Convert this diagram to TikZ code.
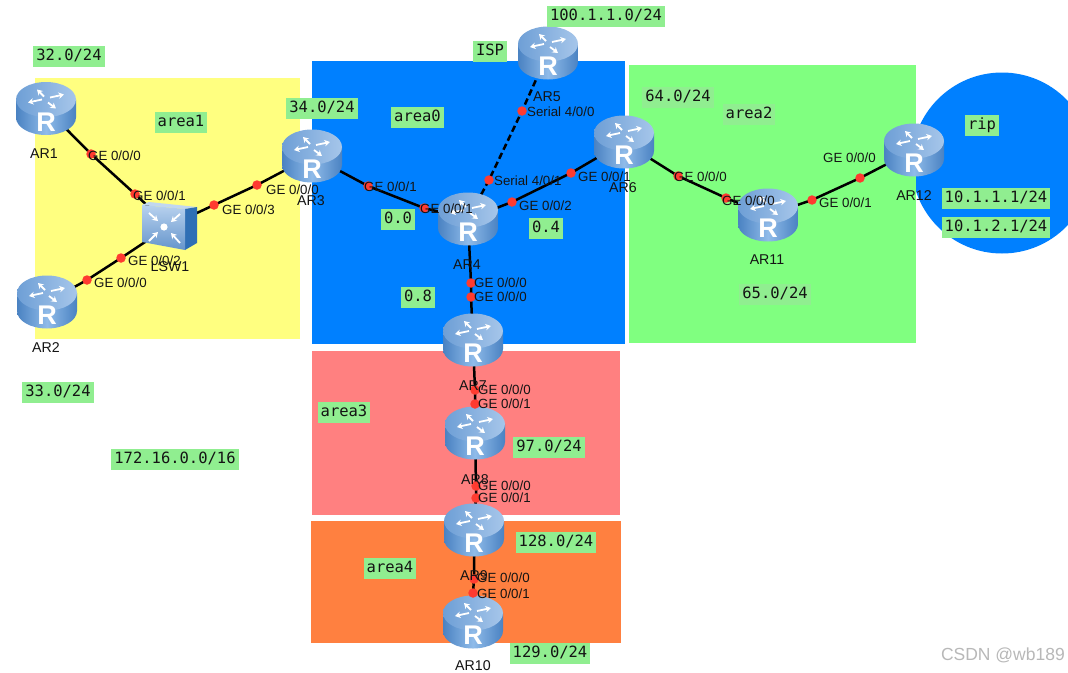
\documentclass[tikz,border=0pt]{standalone}
\usepackage{fontspec}
\setmainfont{Liberation Sans}
\newfontfamily\monof{DejaVu Sans Mono}
\usetikzlibrary{arrows.meta}
\pgfdeclarelayer{back}
\pgfdeclarelayer{lines}
\pgfsetlayers{back,lines,main}
\definecolor{ayellow}{HTML}{FFFF80}
\definecolor{ablue}{HTML}{0080FF}
\definecolor{agreen}{HTML}{80FF80}
\definecolor{ared}{HTML}{FF8080}
\definecolor{aorange}{HTML}{FF8040}
\definecolor{tagbg}{HTML}{90EE90}
\definecolor{txt}{HTML}{141414}
\definecolor{rdark}{HTML}{4A82C2}
\definecolor{rmid}{HTML}{8FBBE9}
\definecolor{rtop1}{HTML}{6E9FD6}
\definecolor{rtop2}{HTML}{A6C6EA}
\definecolor{portred}{HTML}{FF3B30}
\definecolor{swside}{HTML}{2F6FB5}
\tikzset{
 x=1pt,y=-1pt,
 tag/.style={fill=tagbg,inner xsep=3pt,inner ysep=0pt,text height=14.5pt,text depth=6.5pt,text=txt,font=\monof\fontsize{15.5}{17}\selectfont},
 portdot/.style={circle,fill=portred,minimum size=9.5pt,inner sep=0pt},
 portlabel/.style={anchor=west,inner sep=0pt,text=txt,font=\fontsize{13.3}{15}\selectfont},
 devname/.style={inner sep=0pt,text=txt,font=\fontsize{14.2}{16}\selectfont},
 devbox/.style={minimum width=60pt,minimum height=53pt,inner sep=0pt},
 link/.style={draw=black,line width=2.5pt},
 seriallink/.style={draw=black,line width=2.5pt,dash pattern=on 6.5pt off 3.5pt},
 wing/.style={draw=white,line width=1.8pt,-{Stealth[length=5.5pt,width=6.5pt]}},
}
\newcommand{\router}[3]{%
 \node[devbox] (#1) at (#2,#3) {};
 \begin{scope}[shift={(#2,#3)}]
  \path[left color=rdark,right color=rdark,middle color=rmid]
   (-30,-9) -- (-30,9) arc[start angle=180,end angle=0,x radius=30,y radius=17.5] -- (30,-9) -- cycle;
  \path[left color=rtop1,right color=rtop2] (0,-9) ellipse[x radius=30,y radius=17.5];
  \draw[wing] (-4,-9) -- (-18,-6);
  \draw[wing] (4,-11) -- (18,-14);
  \draw[wing] (2,-6) -- (10,0);
  \draw[wing] (-2,-12) -- (-9,-19);
  \node[inner sep=0pt,text=white,font=\bfseries\fontsize{27}{27}\selectfont] (#1-R) at (0,13.5) {R};
 \end{scope}
}
\newcommand{\port}[6]{%
 \node[portdot] (#1) at (#2,#3) {};
 \node[portlabel] (#1-t) at (#4,#5) {#6};
}
\begin{document}
\begin{tikzpicture}
\useasboundingbox (0,0) rectangle (1068,672);
\begin{pgfonlayer}{back}
 \fill[white] (0,0) rectangle (1068,672);
 \begin{scope}
  \clip (0,0) rectangle (1068,672);
  \fill[ablue] (1002,163) circle[radius=90.5];
 \end{scope}
 \fill[ayellow] (35,78) rectangle (300,339);
 \fill[ablue] (312,61) rectangle (625,344);
 \fill[agreen] (629,65) rectangle (916,343);
 \fill[ared] (312,351) rectangle (620,515);
 \fill[aorange] (311,521) rectangle (621,643);
\end{pgfonlayer}

\router{ar1}{46}{108.5}
\router{ar2}{47}{302}
\router{ar3}{312}{156}
\router{ar4}{468}{219}
\router{ar5}{548}{53}
\router{ar6}{624}{142}
\router{ar7}{473}{340}
\router{ar8}{475}{433}
\router{ar9}{474}{530}
\router{ar10}{473}{622}
\router{ar11}{768}{215}
\router{ar12}{914}{150}

% switch
\node[minimum width=55pt,minimum height=50pt,inner sep=0pt] (lsw) at (169,226) {};
\fill[rtop2!70!white] (142,205) -- (149,202) -- (197,207) -- (185,209) -- cycle;
\fill[swside] (185,209) -- (197,207) -- (197,243) -- (185,250) -- cycle;
\path[top color=rtop2!80!white,bottom color=rdark!85!white] (142,205) -- (185,209) -- (185,250) -- (142,242) -- cycle;
\fill[white] (164,227) circle[radius=3.6];
\draw[wing] (149,213) -- (158,221);
\draw[wing] (180,214) -- (171,222);
\draw[wing] (149,241) -- (158,232);
\draw[wing] (180,243) -- (171,233);

% ports
\port{p1a}{91}{154}{88}{156}{GE 0/0/0}
\port{p1b}{135}{194}{133}{196}{GE 0/0/1}
\port{p2a}{87}{280}{94}{283}{GE 0/0/0}
\port{p2b}{121}{258}{128}{261}{GE 0/0/2}
\port{p3a}{214}{205}{222}{210}{GE 0/0/3}
\port{p3b}{257}{185}{266}{190}{GE 0/0/0}
\port{p4a}{368}{186}{364}{187}{GE 0/0/1}
\port{p4b}{424}{208}{420}{209}{GE 0/0/1}
\port{p5a}{522}{111}{527}{112}{Serial 4/0/0}
\port{p5b}{489}{180}{494}{181}{Serial 4/0/1}
\port{p6a}{512}{202}{519}{206}{GE 0/0/2}
\port{p6b}{571}{173}{578}{177}{GE 0/0/1}
\port{p7a}{471}{283}{474}{283}{GE 0/0/0}
\port{p7b}{471}{297}{474}{297}{GE 0/0/0}
\port{p8a}{475}{390}{478}{390}{GE 0/0/0}
\port{p8b}{475}{404}{478}{404}{GE 0/0/1}
\port{p9a}{476}{486}{478}{486}{GE 0/0/0}
\port{p9b}{476}{498}{478}{498}{GE 0/0/1}
\port{p10a}{474}{579}{477}{578}{GE 0/0/0}
\port{p10b}{473}{593}{477}{594}{GE 0/0/1}
\port{p11a}{678}{176}{674}{177}{GE 0/0/0}
\port{p11b}{726}{198}{722}{201}{GE 0/0/0}
\port{p12a}{812}{200}{819}{203}{GE 0/0/1}
\port{p12b}{860}{178}{823}{158}{GE 0/0/0}

\begin{pgfonlayer}{lines}
 \draw[link] (ar1.center) -- (p1a.center) -- (p1b.center) -- (lsw.center);
 \draw[link] (ar2.center) -- (p2a.center) -- (p2b.center) -- (lsw.center);
 \draw[link] (lsw.center) -- (p3a.center) -- (p3b.center) -- (ar3.center);
 \draw[link] (ar3.center) -- (p4a.center) -- (p4b.center) -- (ar4.center);
 \draw[seriallink] (ar5.center) -- (p5a.center) -- (p5b.center) -- (ar4.center);
 \draw[link] (ar4.center) -- (p6a.center) -- (p6b.center) -- (ar6.center);
 \draw[link] (ar4.center) -- (p7a.center) -- (p7b.center) -- (ar7.center);
 \draw[link] (ar7.center) -- (p8a.center) -- (p8b.center) -- (ar8.center);
 \draw[link] (ar8.center) -- (p9a.center) -- (p9b.center) -- (ar9.center);
 \draw[link] (ar9.center) -- (p10a.center) -- (p10b.center) -- (ar10.center);
 \draw[link] (ar6.center) -- (p11a.center) -- (p11b.center) -- (ar11.center);
 \draw[link] (ar11.center) -- (p12a.center) -- (p12b.center) -- (ar12.center);
\end{pgfonlayer}

% device names
\node[devname] (n1) at (44,154) {AR1};
\node[devname] (n2) at (46,348) {AR2};
\node[devname] (n3) at (311,201) {AR3};
\node[devname] (n4) at (467,265) {AR4};
\node[devname] (n5) at (547,97) {AR5};
\node[devname] (n6) at (623,188) {AR6};
\node[devname] (n7) at (473,386) {AR7};
\node[devname] (n8) at (475,480) {AR8};
\node[devname] (n9) at (474,576) {AR9};
\node[devname] (n10) at (473,665.5) {AR10};
\node[devname] (n11) at (767,260) {AR11};
\node[devname] (n12) at (914,196) {AR12};
\node[devname] (nsw) at (170,267) {LSW1};

% tags
\node[tag] (t1) at (69,56) {32.0/24};
\node[tag] (t2) at (58,392) {33.0/24};
\node[tag] (t3) at (181,122) {area1};
\node[tag] (t4) at (322,108) {34.0/24};
\node[tag] (t5) at (417.5,117) {area0};
\node[tag] (t6) at (490,51) {ISP};
\node[tag] (t7) at (606,16) {100.1.1.0/24};
\node[tag] (t8) at (678,97) {64.0/24};
\node[tag] (t9) at (749,114) {area2};
\node[tag] (t10) at (982,125) {rip};
\node[tag] (t11) at (996,198) {10.1.1.1/24};
\node[tag] (t12) at (996,227) {10.1.2.1/24};
\node[tag] (t13) at (775,294) {65.0/24};
\node[tag] (t14) at (398,219) {0.0};
\node[tag] (t15) at (546,228) {0.4};
\node[tag] (t16) at (418,297) {0.8};
\node[tag] (t17) at (344,412) {area3};
\node[tag] (t18) at (549,447) {97.0/24};
\node[tag] (t19) at (175,459) {172.16.0.0/16};
\node[tag] (t20) at (390,568) {area4};
\node[tag] (t21) at (556,542) {128.0/24};
\node[tag] (t22) at (550,653) {129.0/24};
\node[inner sep=0pt,text=black!28,font=\fontsize{17.5}{20}\selectfont,anchor=east] (wm) at (1065,655) {CSDN @wb189};
\end{tikzpicture}
\end{document}
